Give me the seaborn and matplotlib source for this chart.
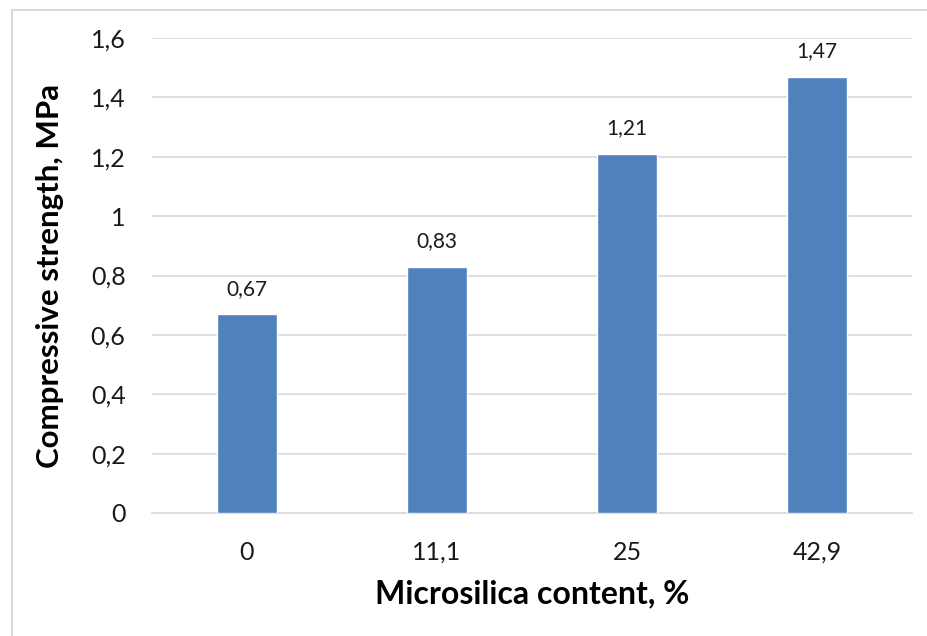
import matplotlib
matplotlib.use("Agg")
import matplotlib.pyplot as plt
import seaborn as sns
import pandas as pd
from matplotlib.lines import Line2D
from matplotlib.ticker import FuncFormatter

# Data
microsilica = ["0", "11,1", "25", "42,9"]
strength = [0.67, 0.83, 1.21, 1.47]
strength_labels = ["0,67", "0,83", "1,21", "1,47"]

df = pd.DataFrame({"content": microsilica, "strength": strength})

sns.set_theme(style="white")
plt.rcParams["font.family"] = ["Lato", "DejaVu Sans"]

fig = plt.figure(figsize=(9.28, 6.36), dpi=100)
ax = fig.add_axes([152 / 928, 1 - 513 / 636, 760 / 928, 475 / 636])

sns.barplot(data=df, x="content", y="strength", color="#4F81BD",
            saturation=1, width=0.316, ax=ax, zorder=3)

ax.set_ylim(0, 1.6)
ax.set_xlim(-0.5, 3.5)
ax.set_yticks([0, 0.2, 0.4, 0.6, 0.8, 1.0, 1.2, 1.4, 1.6])
ax.yaxis.set_major_formatter(
    FuncFormatter(lambda v, p: f"{v:.1f}".rstrip("0").rstrip(".").replace(".", ",")
                  if v != 0 else "0"))
ax.grid(axis="y", color="#D9D9D9", linewidth=1.2, zorder=0)
ax.set_axisbelow(True)
for s in ["top", "right", "left"]:
    ax.spines[s].set_visible(False)
ax.spines["bottom"].set_color("#D9D9D9")
ax.spines["bottom"].set_linewidth(1.2)

ax.tick_params(axis="both", length=0, labelsize=18, colors="#1a1a1a")
ax.tick_params(axis="y", pad=19)
ax.tick_params(axis="x", pad=20)

for i, (v, lab) in enumerate(zip(strength, strength_labels)):
    ax.annotate(lab, (i, v), xytext=(0, 11), textcoords="offset points",
                ha="center", va="bottom", fontsize=15, color="#1a1a1a")

ax.set_xlabel("Microsilica content, %", fontsize=23, fontweight="bold",
              color="black", labelpad=11)
ax.set_ylabel("Compressive strength, MPa", fontsize=22.5, fontweight="bold",
              color="black", labelpad=19)

# Chart area frame (left and top edges)
fig.add_artist(Line2D([12 / 928, 12 / 928], [0, 1 - 10 / 636],
                      transform=fig.transFigure, color="#D9D9D9", linewidth=1.5))
fig.add_artist(Line2D([12 / 928, 1], [1 - 10 / 636, 1 - 10 / 636],
                      transform=fig.transFigure, color="#D9D9D9", linewidth=1.5))

fig.savefig("out.png", dpi=100)
